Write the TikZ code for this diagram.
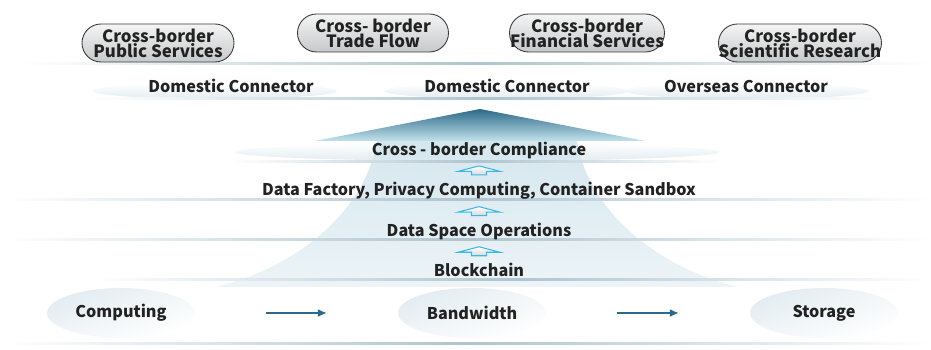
\documentclass[tikz,border=0pt]{standalone}
\usepackage{fontspec}
\setmainfont{Noto Sans CJK SC}
\usetikzlibrary{arrows.meta,shapes.geometric}

\definecolor{Ink}{HTML}{222222}
\definecolor{PillEdge}{HTML}{3A3A3A}
\definecolor{PillTop}{HTML}{F4F4F4}
\definecolor{PillBot}{HTML}{C6C9CA}
\definecolor{TriTop}{HTML}{2C6887}
\definecolor{TriBot}{HTML}{C2E2EC}
\definecolor{FunTop}{HTML}{D5E7EE}
\definecolor{FunBot}{HTML}{EDF4F7}
\definecolor{Rim}{HTML}{AFC4CF}
\definecolor{Mist}{HTML}{E2ECF1}
\definecolor{Sky}{HTML}{3DB8E6}
\definecolor{Flow}{HTML}{2C6887}

\tikzset{
  pill/.style={draw=PillEdge, line width=0.5pt, top color=PillTop, bottom color=PillBot, rounded corners=0.38cm, minimum height=0.76cm, inner sep=0pt, align=center, text=Ink, font=\fontsize{9.6}{8.6}\selectfont\bfseries},
  lbl/.style={text=Ink, inner sep=1pt, font=\fontsize{9.2}{11}\selectfont\bfseries},
  disc/.style={ellipse, top color=Mist, bottom color=white, shading angle=20, minimum width=2.96cm, minimum height=1cm},
  flow/.style={draw=Flow, line width=0.7pt, -{Latex[length=5pt,width=4.5pt]}, shorten <=1.42cm, shorten >=1.42cm},
  rim/.style={left color=white, right color=white, middle color=Rim},
  uparr/.pic={\shadedraw[draw=Sky, line width=0.6pt, top color=white, bottom color=gray!30] (0,-4.5) -- (21,1) -- (7.5,1) -- (7.5,4.5) -- (-7.5,4.5) -- (-7.5,1) -- (-21,1) -- cycle;}
}

\begin{document}
\begin{tikzpicture}[x=0.02cm, y=-0.02cm]
\useasboundingbox (0,0) rectangle (931,350);

\foreach \x in {215, 507, 747}
	\shade[top color=white, bottom color=Mist] (\x,91) ellipse (122 and 8);
\shade[top color=white, bottom color=Mist] (477,152) ellipse (242 and 9);

\shade[top color=FunTop, bottom color=FunBot] (377,141) .. controls (365,215) and (290,270) .. (215,287) -- (739,287) .. controls (664,270) and (589,215) .. (577,141) -- cycle;

\foreach \y/\a/\b in {63/20/931, 98/90/880, 161/230/725, 199/0/931, 239/0/931, 279/90/931, 343/0/931}
	\shade[rim] (\a,\y) rectangle (\b,\y+1.4);

\shade[top color=TriTop, bottom color=TriBot] (480,109) -- (645,141) -- (315,141) -- cycle;

\foreach \n/\x/\y/\w/\t in {pub/158/43/152/{Cross-border\\Public Services}, trade/373/33/151/{Cross- border\\Trade Flow}, fin/587/33/155/{Cross-border\\Financial Services}, sci/800/43/163/{Cross-border\\Scientific Research}}
	\node[pill, minimum width=\w*0.02cm] (\n) at (\x,\y) {\t};

\foreach \n/\x/\t in {dom1/231/Domestic Connector, dom2/507/Domestic Connector, ovs/746/Overseas Connector}
	\node[lbl] (\n) at (\x,86) {\t};

\foreach \n/\y/\t in {comp/150/{Cross - border Compliance}, dfp/191/{Data Factory, Privacy Computing, Container Sandbox}, dso/231/{Data Space Operations}, blk/270/Blockchain}
	\node[lbl] (\n) at (479,\y) {\t};

\foreach \a/\b in {blk/dso, dso/dfp, dfp/comp} {
	\path (\a) -- (\b) coordinate[midway] (m\a);
	\pic at (m\a) {uparr};
}

\foreach \n/\x/\t in {cpu/121/Computing, bw/472/Bandwidth, sto/824/Storage}
	\node[disc, lbl] (\n) at (\x,313) {\t};

\draw[flow] (cpu) -- (bw);
\draw[flow] (bw) -- (sto);

\end{tikzpicture}
\end{document}
